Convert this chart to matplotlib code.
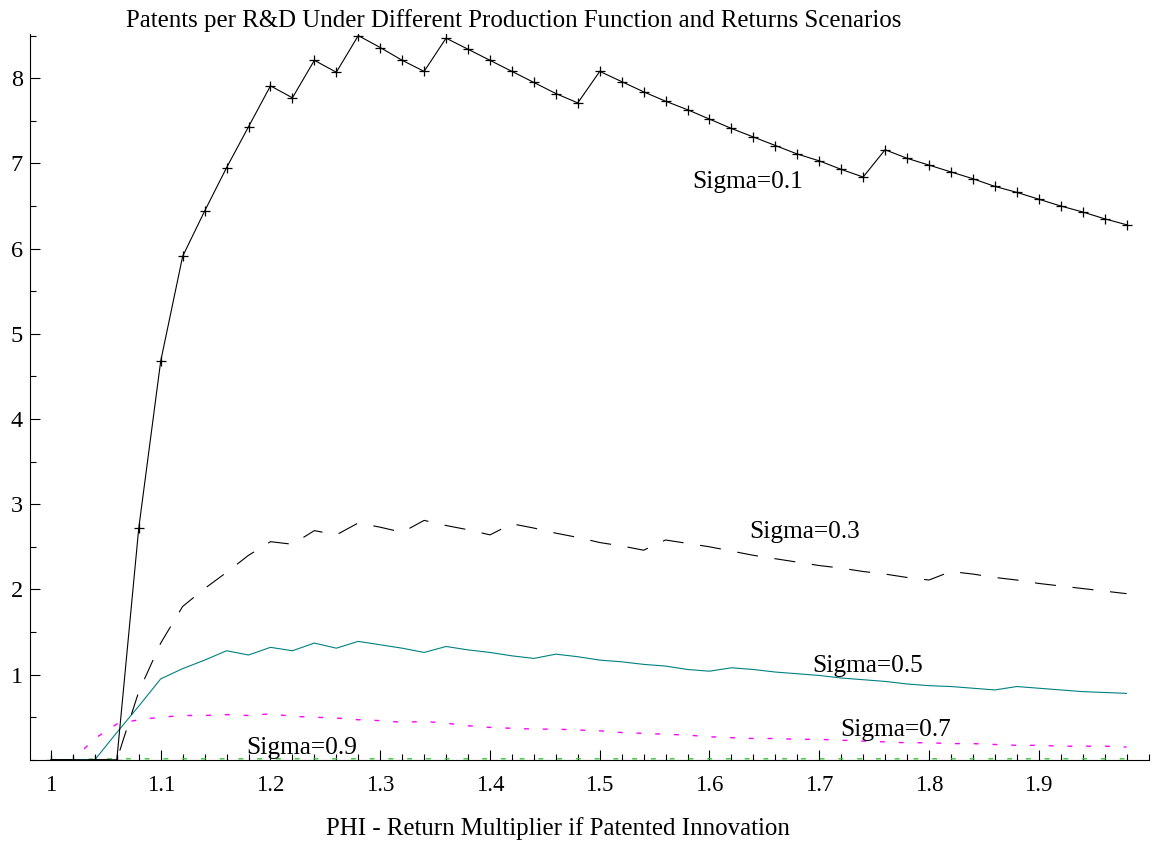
import numpy as np
import matplotlib
matplotlib.use("Agg")
import matplotlib.pyplot as plt
from matplotlib.ticker import MultipleLocator, FixedLocator

plt.rcParams['font.family'] = ['Liberation Serif', 'DejaVu Serif']

phi = [1.00, 1.02, 1.04, 1.06, 1.08, 1.10, 1.12, 1.14, 1.16, 1.18,
       1.20, 1.22, 1.24, 1.26, 1.28, 1.30, 1.32, 1.34, 1.36, 1.38,
       1.40, 1.42, 1.44, 1.46, 1.48, 1.50, 1.52, 1.54, 1.56, 1.58,
       1.60, 1.62, 1.64, 1.66, 1.68, 1.70, 1.72, 1.74, 1.76, 1.78,
       1.80, 1.82, 1.84, 1.86, 1.88, 1.90, 1.92, 1.94, 1.96, 1.98]

sigma_01 = [0, 0, 0, 0, 2.72, 4.68, 5.91, 6.44, 6.95, 7.43,
            7.91, 7.77, 8.21, 8.07, 8.50, 8.36, 8.21, 8.08, 8.47, 8.34,
            8.21, 8.08, 7.95, 7.82, 7.71, 8.08, 7.96, 7.84, 7.73, 7.63,
            7.52, 7.41, 7.31, 7.21, 7.11, 7.03, 6.93, 6.84, 7.16, 7.06,
            6.98, 6.90, 6.82, 6.73, 6.66, 6.58, 6.50, 6.43, 6.35, 6.28]

sigma_03 = [0, 0, 0, 0, 0.80, 1.37, 1.80, 2.01, 2.20, 2.40,
            2.56, 2.53, 2.69, 2.64, 2.78, 2.73, 2.67, 2.81, 2.75, 2.70,
            2.64, 2.77, 2.72, 2.66, 2.61, 2.55, 2.51, 2.46, 2.58, 2.54,
            2.50, 2.45, 2.40, 2.36, 2.32, 2.28, 2.25, 2.21, 2.18, 2.14,
            2.11, 2.21, 2.18, 2.14, 2.11, 2.07, 2.04, 2.01, 1.98, 1.95]

sigma_05 = [0, 0, 0, 0.32, 0.63, 0.95, 1.07, 1.17, 1.28, 1.23,
            1.32, 1.28, 1.37, 1.31, 1.39, 1.35, 1.31, 1.26, 1.33, 1.29,
            1.26, 1.22, 1.19, 1.24, 1.21, 1.17, 1.15, 1.12, 1.10, 1.06,
            1.04, 1.08, 1.06, 1.03, 1.01, 0.99, 0.96, 0.94, 0.92, 0.89,
            0.87, 0.86, 0.84, 0.82, 0.86, 0.84, 0.82, 0.80, 0.79, 0.78]

sigma_07 = [0, 0, 0.25, 0.42, 0.47, 0.50, 0.52, 0.52, 0.53, 0.52,
            0.54, 0.51, 0.50, 0.49, 0.47, 0.46, 0.44, 0.45, 0.43, 0.40,
            0.38, 0.37, 0.36, 0.36, 0.35, 0.34, 0.32, 0.31, 0.30, 0.29,
            0.27, 0.26, 0.25, 0.25, 0.24, 0.24, 0.23, 0.22, 0.21, 0.20,
            0.20, 0.19, 0.19, 0.18, 0.17, 0.17, 0.16, 0.16, 0.16, 0.15]

sigma_09 = [0, 0, 0.01, 0.012, 0.012, 0.012, 0.012, 0.012, 0.012, 0.012,
            0.012, 0.012, 0.012, 0.012, 0.012, 0.012, 0.012, 0.012, 0.012, 0.012,
            0.012, 0.012, 0.012, 0.012, 0.012, 0.012, 0.012, 0.012, 0.012, 0.012,
            0.012, 0.012, 0.012, 0.012, 0.012, 0.012, 0.012, 0.012, 0.012, 0.012,
            0.012, 0.012, 0.012, 0.012, 0.012, 0.012, 0.012, 0.012, 0.012, 0.012]

series_labels = ["Sigma=0.1", "Sigma=0.3", "Sigma=0.5", "Sigma=0.7", "Sigma=0.9"]
x_tick_values = [1.0, 1.1, 1.2, 1.3, 1.4, 1.5, 1.6, 1.7, 1.8, 1.9]
x_tick_labels = ["1", "1.1", "1.2", "1.3", "1.4", "1.5", "1.6", "1.7", "1.8", "1.9"]
y_tick_values = [1, 2, 3, 4, 5, 6, 7, 8]

title = "Patents per R&D Under Different Production Function and Returns Scenarios"
xlabel = "PHI - Return Multiplier if Patented Innovation"

fig = plt.figure(figsize=(11.52, 8.5), dpi=100)
ax = fig.add_axes([30/1152, (850-759.8)/850, (1148.5-30)/1152, (759.8-33.9)/850])

lw = 0.8
ax.plot(phi, sigma_09, color='#3cc83c', lw=1.0, dashes=(3.5, 10), zorder=2)
ax.plot(phi, sigma_07, color='#ff00ff', lw=1.0, dashes=(3.5, 10), zorder=2)
ax.plot(phi, sigma_05, color='#008080', lw=lw, zorder=3)
ax.plot(phi, sigma_03, color='black', lw=lw, dashes=(19, 15), zorder=3)
ax.plot(phi, sigma_01, color='black', lw=lw, marker='+', markersize=7,
        markeredgewidth=0.9, zorder=4)

label_pos = [(1.6346, 6.78), (1.687, 2.67), (1.744, 1.10), (1.770, 0.35), (1.228, 0.14)]
for (lx, ly), txt in zip(label_pos, series_labels):
    ax.text(lx, ly, txt, ha='center', va='center', fontsize=18.3, zorder=5)

ax.set_xlim(0.9809, 2.0)
ax.set_ylim(0, 8.52)

ax.spines['top'].set_visible(False)
ax.spines['right'].set_visible(False)
for s in ('left', 'bottom'):
    ax.spines[s].set_linewidth(0.8)
    ax.spines[s].set_color('black')

ax.xaxis.set_major_locator(FixedLocator(x_tick_values))
ax.set_xticklabels(x_tick_labels)
ax.xaxis.set_minor_locator(FixedLocator(np.round(np.arange(1.0, 2.001, 0.02), 2)))
ax.yaxis.set_major_locator(FixedLocator(y_tick_values))
ax.yaxis.set_minor_locator(MultipleLocator(0.5))

ax.tick_params(axis='both', which='major', direction='in', length=7.5, width=0.8,
               labelsize=16.5)
ax.tick_params(axis='both', which='minor', direction='in', length=4.3, width=0.8)
ax.tick_params(axis='x', which='major', pad=11)
ax.tick_params(axis='y', which='major', pad=5, labelsize=17.5)

fig.text(513.5/1152, 1 - 21/850, title, ha='center', va='center', fontsize=17.9)
fig.text(558/1152, 1 - 829/850, xlabel, ha='center', va='center', fontsize=17.9)

fig.savefig("out.png", dpi=100)
